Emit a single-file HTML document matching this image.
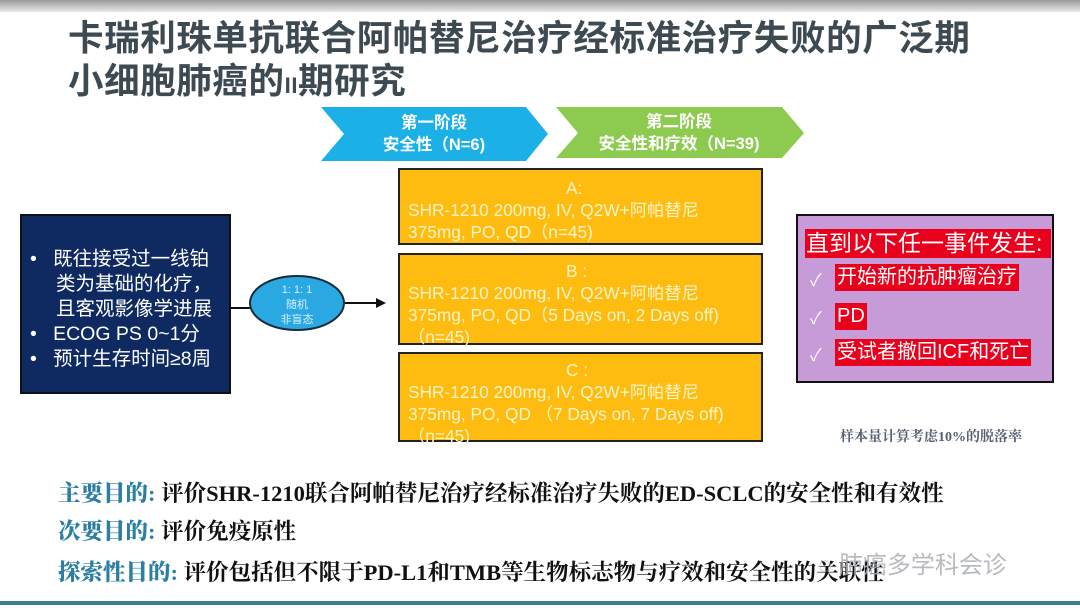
<!DOCTYPE html>
<html><head><meta charset="utf-8"><style>
*{margin:0;padding:0;box-sizing:border-box}
body{width:1080px;height:608px;position:relative;background:#fff;overflow:hidden;font-family:"Liberation Sans","Noto Sans CJK SC",sans-serif}
.a{position:absolute;white-space:nowrap}
.title{left:68px;font-size:35.5px;font-weight:bold;color:#3d4a52;letter-spacing:0.6px}
.yb{position:absolute;left:398px;width:365px;background:#fdbc0f;border:2px solid #222;color:#fff4c8;font-size:17.3px;line-height:22px;padding-left:8px}
.rd{background:#e8001c;color:#fff}
.bt{left:58px;font-size:22.5px;font-weight:bold;font-family:"Liberation Serif","Noto Serif CJK SC",serif;color:#111}
.bt b{color:#2c7fa3}
</style></head><body>
<div class="a" style="left:0;top:0;width:1080px;height:12px;background:linear-gradient(#9a9a9a,#e8e8e8)"></div>
<div class="a title" style="top:10px">卡瑞利珠单抗联合阿帕替尼治疗经标准治疗失败的广泛期</div>
<div class="a title" style="top:53px">小细胞肺癌的<span style="font-size:22px">II</span>期研究</div>

<svg class="a" style="left:0;top:0" width="1080" height="608">
<polygon points="556,107 782,107 804,133 782,158 556,158 578,133" fill="#8ccb4f"/>
<polygon points="321,107 526,107 548,134 526,161 321,161 344,134" fill="#1bb0e6"/>
<line x1="231" y1="308" x2="250" y2="308" stroke="#111" stroke-width="2"/>
<line x1="345" y1="303" x2="378" y2="303" stroke="#111" stroke-width="2"/>
<polygon points="386,303 376,298 376,308" fill="#111"/>
<ellipse cx="297" cy="303" rx="47" ry="27" fill="#2aa8e2" stroke="#1a2a3a" stroke-width="2"/>
<text x="297" y="293" font-size="11" fill="#d8f0ff" text-anchor="middle" font-family="Liberation Sans,Noto Sans CJK SC,sans-serif">1: 1: 1</text>
<text x="297" y="308" font-size="11" fill="#d8f0ff" text-anchor="middle" font-family="Liberation Sans,Noto Sans CJK SC,sans-serif">随机</text>
<text x="297" y="323" font-size="11" fill="#d8f0ff" text-anchor="middle" font-family="Liberation Sans,Noto Sans CJK SC,sans-serif">非盲态</text>
</svg>
<div class="a" style="left:344px;top:112px;width:180px;text-align:center;color:#fff;font-weight:bold;font-size:16.5px;line-height:22px">第一阶段<br>安全性（N=6)</div>
<div class="a" style="left:578px;top:111px;width:202px;text-align:center;color:#fff;font-weight:bold;font-size:16.5px;line-height:22px">第二阶段<br>安全性和疗效（N=39)</div>

<div class="a" style="left:20px;top:214px;width:211px;height:180px;background:#0f2a60;border:2px solid #111;color:#fff;font-size:19.5px;line-height:25px;padding:31px 0 0 8px">
<div>•&nbsp;&nbsp;&nbsp;既往接受过一线铂</div>
<div style="padding-left:26px">类为基础的化疗，</div>
<div style="padding-left:26px">且客观影像学进展</div>
<div>•&nbsp;&nbsp;&nbsp;ECOG PS 0~1分</div>
<div>•&nbsp;&nbsp;&nbsp;预计生存时间≥8周</div>
</div>

<div class="yb" style="top:168px;height:77px;padding-top:7px"><div style="padding-left:158px">A:</div>SHR-1210 200mg, IV, Q2W+阿帕替尼<br>375mg, PO, QD（n=45)</div>
<div class="yb" style="top:253px;height:92px;padding-top:5px"><div style="padding-left:158px">B :</div>SHR-1210 200mg, IV, Q2W+阿帕替尼<br>375mg, PO, QD（5 Days on, 2 Days off)<br>（n=45)</div>
<div class="yb" style="top:352px;height:90px;padding-top:5px"><div style="padding-left:158px">C :</div>SHR-1210 200mg, IV, Q2W+阿帕替尼<br>375mg, PO, QD （7 Days on, 7 Days off)<br>（n=45)</div>

<div class="a" style="left:796px;top:214px;width:258px;height:169px;background:#c79ad8;border:2px solid #111"></div>
<div class="a rd" style="left:805px;top:229px;width:246px;height:29px;font-size:23px;line-height:29px;padding-left:1px">直到以下任一事件发生:</div>
<div class="a" style="left:810px;top:266px;color:#fff;font-size:17px">✓</div>
<div class="a rd" style="left:835px;top:264px;height:27px;font-size:20px;line-height:27px;padding:0 2px">开始新的抗肿瘤治疗</div>
<div class="a" style="left:810px;top:304px;color:#fff;font-size:17px">✓</div>
<div class="a rd" style="left:835px;top:303px;height:27px;font-size:20px;line-height:27px;padding:0 2px">PD</div>
<div class="a" style="left:810px;top:341px;color:#fff;font-size:17px">✓</div>
<div class="a rd" style="left:835px;top:339px;height:27px;font-size:20px;line-height:27px;padding:0 2px">受试者撤回ICF和死亡</div>
<div class="a" style="left:840px;top:426px;font-size:14px;font-weight:bold;color:#556070;font-family:'Liberation Serif','Noto Serif CJK SC',serif">样本量计算考虑10%的脱落率</div>

<div class="a bt" style="top:476px"><b>主要目的:</b> 评价SHR-1210联合阿帕替尼治疗经标准治疗失败的ED-SCLC的安全性和有效性</div>
<div class="a bt" style="top:514px"><b>次要目的:</b> 评价免疫原性</div>
<div class="a bt" style="top:555px"><b>探索性目的:</b> 评价包括但不限于PD-L1和TMB等生物标志物与疗效和安全性的关联性</div>
<div class="a" style="left:818px;top:545px;font-size:24px;color:rgba(170,175,180,0.85)">◌ 肺癌多学科会诊</div>
<div class="a" style="left:0;top:601px;width:1080px;height:4px;background:#3a7f8a"></div>
</body></html>
